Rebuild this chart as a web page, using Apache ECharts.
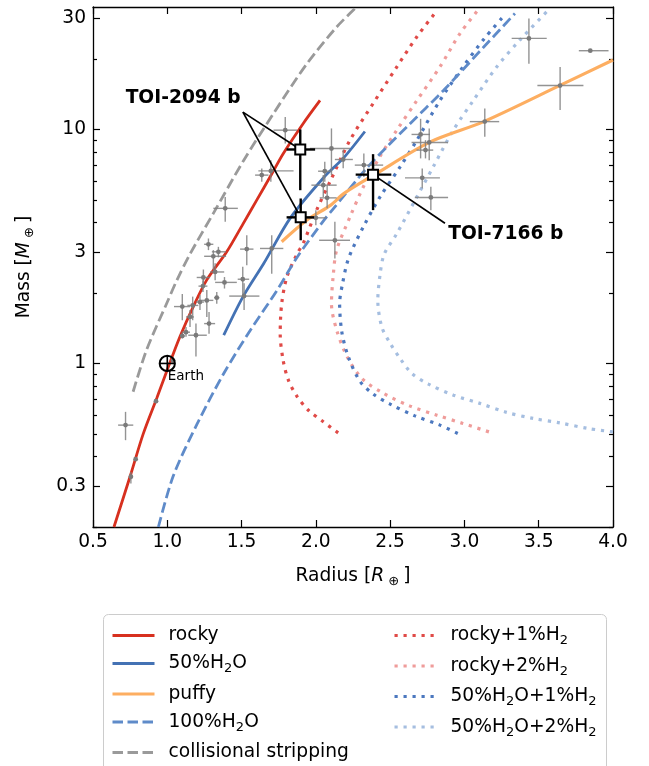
<!DOCTYPE html>
<html><head><meta charset="utf-8">
<script src="https://cdn.jsdelivr.net/npm/echarts@6/dist/echarts.min.js"></script>
<style>html,body{margin:0;padding:0;background:#fff}#c{width:649px;height:766px}</style>
</head><body><div id="c"></div>
<script>
// ---------- model curves (radius [R_earth], mass [M_earth]) ----------
const rockyR = [0.641,0.749,0.838,0.929,1.0,1.085,1.175,1.265,1.40,1.51,1.602,1.70,1.781,1.915,2.028];
const rockyM = [0.20,0.328,0.50,0.71,0.94,1.30,1.75,2.27,3.0,3.95,4.99,6.4,7.89,10.6,13.3];
const h2o50R = [1.38,1.51,1.65,1.83,2.06,2.19,2.33];
const h2o50M = [1.32,1.93,2.68,4.2,6.3,7.6,9.8];
const puffyR = [1.77,1.94,2.10,2.19,2.39,2.77,3.13,3.65,4.0];
const puffyM = [3.31,4.10,4.75,5.33,6.38,8.85,10.8,15.5,19.8];
const h2o100R = [0.94,1.04,1.20,1.38,1.56,1.74,1.875,2.055,2.10,2.35,2.615,2.86,3.13,3.34];
const h2o100M = [0.2,0.33,0.55,0.906,1.39,2.06,2.85,4.10,4.44,6.92,10.3,14.7,22.5,31.3];
const collR = [0.77,0.86,0.995,1.065,1.155,1.31,1.515,1.715,1.94,2.14,2.275];
const collM = [0.757,1.14,1.80,2.27,2.95,4.38,7.39,11.7,19.1,27.4,33.4];
const rocky1R = [2.15,2.05,1.95,1.875,1.815,1.78,1.76,1.77,1.805,1.875,1.915,2.005,2.10,2.23,2.385,2.545,2.68,2.80];
const rocky1M = [0.505,0.563,0.631,0.72,0.849,1.03,1.34,1.80,2.34,2.95,3.26,4.52,6.07,9.0,12.9,18.5,24.9,31.3];
const rocky2R = [3.165,2.99,2.815,2.635,2.455,2.31,2.21,2.14,2.105,2.117,2.14,2.23,2.32,2.43,2.545,2.68,2.835,2.97,3.09];
const rocky2M = [0.51,0.554,0.601,0.657,0.745,0.863,1.07,1.39,1.80,2.38,3.05,4.23,5.69,7.64,9.93,13.3,18.5,25.7,32.3];
const w1R = [2.955,2.835,2.667,2.50,2.387,2.30,2.22,2.175,2.16,2.18,2.22,2.32,2.432,2.567,2.68,2.835,2.99,3.135,3.27];
const w1M = [0.502,0.545,0.597,0.67,0.739,0.834,1.06,1.36,1.80,2.20,2.81,3.84,5.15,6.92,9.0,13.3,18.5,24.5,30.8];
const w2R = [4.0,3.835,3.643,3.463,3.284,3.104,2.926,2.758,2.646,2.567,2.50,2.444,2.417,2.433,2.46,2.545,2.68,2.79,2.925,3.06,3.217,3.373,3.563];
const w2M = [0.51,0.527,0.557,0.582,0.618,0.675,0.732,0.816,0.906,1.05,1.22,1.43,1.86,2.42,2.93,3.59,5.15,6.92,9.93,13.3,18.5,24.1,32.3];

// ---------- known planets ----------
const obsR   = [1.39,1.277,1.344,1.31,1.535,1.322,1.243,1.385,1.508,1.517,1.24,1.333,1.266,1.22,1.171,1.101,1.153,1.281,1.126,1.101,1.193,0.719,0.924,0.787,0.755,1.039,1.636,1.697,1.794,2.105,2.06,2.05,2.076,2.184,2.0,2.128,2.323,1.703,2.705,2.763,2.738,2.716,2.774,3.137,3.434,3.847,3.644];
const obsRLo = [1.31,1.248,1.30,1.248,1.49,1.288,1.198,1.322,1.474,1.417,1.21,1.315,1.22,1.193,1.135,1.045,1.126,1.248,1.097,1.085,1.141,0.669,0.918,0.782,0.75,1.03,1.591,1.613,1.715,1.96,2.015,1.97,2.026,2.128,1.936,2.022,2.262,1.624,2.644,2.644,2.678,2.6,2.666,3.036,3.318,3.77,3.491];
const obsRHi = [1.475,1.31,1.396,1.396,1.58,1.383,1.288,1.468,1.551,1.62,1.27,1.351,1.31,1.248,1.209,1.153,1.18,1.322,1.153,1.119,1.266,0.771,0.93,0.792,0.76,1.05,1.681,1.85,1.873,2.23,2.105,2.14,2.14,2.249,2.072,2.23,2.453,1.781,2.768,2.89,2.79,2.835,2.89,3.234,3.554,3.97,3.801];
const obsM   = [4.6,3.23,3.0,2.87,3.08,2.46,2.33,2.22,2.29,1.94,2.14,1.91,1.86,1.83,1.77,1.75,1.58,1.48,1.36,1.31,1.32,0.545,0.69,0.39,0.328,1.03,6.38,6.65,9.93,8.29,6.63,5.78,5.10,7.44,4.19,3.36,7.04,3.10,9.52,8.80,8.16,6.21,5.12,10.8,24.5,21.7,15.4];
const obsMLo = [4.03,3.05,2.84,2.51,2.63,2.27,2.12,2.09,1.96,1.69,2.02,1.80,1.58,1.69,1.53,1.53,1.43,1.34,1.30,1.28,1.07,0.47,0.68,0.385,0.307,1.0,5.97,5.97,8.71,6.38,5.97,5.15,4.60,6.83,3.90,2.81,6.27,2.42,7.52,7.39,7.52,5.60,4.52,9.30,19.1,21.4,12.1];
const obsMHi = [5.15,3.42,3.15,3.05,3.53,2.68,2.52,2.34,2.59,2.20,2.27,2.02,2.06,1.96,1.93,1.98,1.69,1.66,1.43,1.35,1.48,0.621,0.70,0.395,0.344,1.06,6.81,7.39,11.3,10.1,7.27,6.38,5.78,8.16,4.52,4.03,7.89,3.53,11.1,10.1,9.0,6.81,5.69,12.3,29.8,22.0,18.5];

// ---------- TOI planets ----------
const toiR   = [1.895,1.898,2.385];
const toiRLo = [1.803,1.803,2.268];
const toiRHi = [1.995,1.988,2.508];
const toiM   = [8.21,4.21,6.41];
const toiMLo = [5.50,3.36,4.52];
const toiMHi = [10.0,5.07,7.84];
const toiNames = ['TOI-2094 b','TOI-7166 b'];
const toiLabelR = [1.494,2.891];
const toiLabelM = [13.57,3.56];
const toi2094Anchor = [1.509,11.86];
const toi7166Anchor = [2.869,3.97];
const earthR = [1.0], earthM = [1.0];

// ---------- axis ticks ----------
const xTicks = [0.5,1.0,1.5,2.0,2.5,3.0,3.5,4.0];
const yMajor = [0.3,1,3,10,30];
const yMinor = [0.2,0.4,0.5,0.6,0.7,0.8,0.9,2,4,5,6,7,8,9,20];

const L = Math.log10;
const F = "'DejaVu Sans', sans-serif";
const FS = 18.67;
const yMin = L(0.2), yMax = L(0.2) + 520/234;

function pairs(R, M) { return R.map((r, i) => [r, L(M[i])]); }
function errData(R, RLo, RHi, M, MLo, MHi) {
  return R.map((r, i) => [r, L(M[i]), RLo[i], RHi[i], L(MLo[i]), L(MHi[i])]);
}
function errRender(color, lw, kind) {
  return function (params, api) {
    const r = api.value(0), m = api.value(1);
    const c = api.coord([r, m]);
    const a = api.coord([api.value(2), m]), b = api.coord([api.value(3), m]);
    const d = api.coord([r, api.value(4)]), e = api.coord([r, api.value(5)]);
    const ch = [
      {type:'line', shape:{x1:a[0],y1:a[1],x2:b[0],y2:b[1]}, style:{stroke:color,lineWidth:lw}},
      {type:'line', shape:{x1:d[0],y1:d[1],x2:e[0],y2:e[1]}, style:{stroke:color,lineWidth:lw}}
    ];
    if (kind === 'dot') ch.push({type:'circle', shape:{cx:c[0],cy:c[1],r:2.4}, style:{fill:'#7a7a7a'}});
    else ch.push({type:'rect', shape:{x:c[0]-5,y:c[1]-5,width:10,height:10}, style:{fill:'#fff',stroke:'#000',lineWidth:2}});
    return {type:'group', children: ch};
  };
}

function curve(name, R, M, color, width, type, z, smooth) {
  return {name, type:'line', data:pairs(R, M), xAxisIndex:0, yAxisIndex:0, symbol:'none', smooth: smooth || false,
    lineStyle:{color, width, type, cap:'butt'}, itemStyle:{color}, z: z || 2, silent:true, clip:true};
}
const dotted = [3.2, 5.8], dashed = [10.5, 4.5];

const subRich = {
  s:{fontSize:13, fontFamily:F, color:'#000', verticalAlign:'bottom', lineHeight:24},
  i:{fontSize:FS, fontFamily:F, fontStyle:'italic', color:'#000'}
};
function subFmt(name) { return name.replace(/H2/g, 'H{s|2}'); }

const axisLine = {show:true, onZero:false, lineStyle:{color:'#000', width:1.3}};
function yAx(pos, ticks, len, labels, withLine, extra) {
  return Object.assign({type:'value', position:pos, min:yMin, max:yMax,
    axisLine: withLine ? axisLine : {show:false, onZero:false},
    axisTick:{show:true, inside:true, length:len, customValues:ticks.map(L), lineStyle:{color:'#000', width:1.2}},
    axisLabel: labels ? {show:true, customValues:yMajor.map(L), margin:7, color:'#000', fontSize:FS, fontFamily:F,
      formatter: v => String(Math.round(Math.pow(10, v)*10)/10)} : {show:false},
    splitLine:{show:false}}, extra || {});
}

const legendCommon = {orient:'vertical', itemWidth:42, itemHeight:20, itemGap:9, selectedMode:false, height:170,
  itemStyle:{opacity:0}, lineStyle:{width:3},
  textStyle:{color:'#000', fontSize:FS, fontFamily:F, padding:[0,0,0,9], rich:subRich}, formatter:subFmt};

const chart = echarts.init(document.getElementById('c'), null, {renderer:'canvas'});
chart.setOption({
  animation:false,
  backgroundColor:'#fff',
  grid:{left:93, top:7, width:520, height:520, outerBoundsMode:'none', containLabel:false},
  graphic:[{type:'rect', left:103, top:614, shape:{width:503, height:170, r:5},
    style:{fill:'#fff', stroke:'#cccccc', lineWidth:1}, z:-1, silent:true}],
  legend:[
    Object.assign({}, legendCommon, {left:106, top:621,
      data:['rocky','50%H2O','puffy','100%H2O','collisional stripping']}),
    Object.assign({}, legendCommon, {left:388, top:621,
      data:['rocky+1%H2','rocky+2%H2','50%H2O+1%H2','50%H2O+2%H2']})
  ],
  xAxis:[
    {type:'value', position:'bottom', min:0.5, max:4, interval:0.5, axisLine,
      axisTick:{show:true, inside:true, length:7, lineStyle:{color:'#000', width:1.2}},
      axisLabel:{margin:6, color:'#000', fontSize:FS, fontFamily:F, formatter:v => v.toFixed(1)},
      splitLine:{show:false},
      name:'Radius [{i|R}{s| ⊕ }]', nameLocation:'middle', nameGap:37,
      nameTextStyle:{color:'#000', fontSize:FS, fontFamily:F, rich:subRich}},
    {type:'value', position:'top', min:0.5, max:4, interval:0.5, axisLine,
      axisTick:{show:true, inside:true, length:7, lineStyle:{color:'#000', width:1.2}},
      axisLabel:{show:false}, splitLine:{show:false}}
  ],
  yAxis:[
    yAx('left', yMajor, 7, true, true, {name:'Mass [{i|M}{s| ⊕ }]', nameLocation:'middle', nameGap:57,
      nameTextStyle:{color:'#000', fontSize:FS, fontFamily:F, rich:subRich}}),
    yAx('left', yMinor, 4, false, false),
    yAx('right', yMajor, 7, false, true),
    yAx('right', yMinor, 4, false, false)
  ],
  series:[
    curve('collisional stripping', collR, collM, '#9a9a9a', 2.8, dashed, 2, 0.3),
    curve('rocky+1%H2', rocky1R, rocky1M, '#e04a47', 3.2, dotted, 2, 0.3),
    curve('rocky+2%H2', rocky2R, rocky2M, '#ef9c9a', 3.2, dotted, 2, 0.3),
    curve('50%H2O+1%H2', w1R, w1M, '#4c78bf', 3.2, dotted, 2, 0.3),
    curve('50%H2O+2%H2', w2R, w2M, '#a5bee0', 3.2, dotted, 2, 0.3),
    curve('100%H2O', h2o100R, h2o100M, '#5f8bc9', 2.8, dashed, 3, 0.3),
    curve('puffy', puffyR, puffyM, '#fdae61', 3.2, 'solid', 3, 0.3),
    curve('50%H2O', h2o50R, h2o50M, '#4472b4', 2.8, 'solid', 3, 0.3),
    curve('rocky', rockyR, rockyM, '#d7301f', 2.8, 'solid', 3, 0.3),
    {type:'custom', xAxisIndex:0, yAxisIndex:0, z:4, silent:true,
      data: errData(obsR, obsRLo, obsRHi, obsM, obsMLo, obsMHi),
      encode:{x:[0,2,3], y:[1,4,5]}, renderItem: errRender('rgba(128,128,128,0.85)', 1.4, 'dot')},
    {type:'line', xAxisIndex:0, yAxisIndex:0, z:5, symbol:'none', silent:true,
      data:[[toi2094Anchor[0], L(toi2094Anchor[1])], [toiR[0], L(toiM[0])]], lineStyle:{color:'#000', width:1.7}},
    {type:'line', xAxisIndex:0, yAxisIndex:0, z:5, symbol:'none', silent:true,
      data:[[toi2094Anchor[0], L(toi2094Anchor[1])], [toiR[1], L(toiM[1])]], lineStyle:{color:'#000', width:1.7}},
    {type:'line', xAxisIndex:0, yAxisIndex:0, z:5, symbol:'none', silent:true,
      data:[[toiR[2], L(toiM[2])], [toi7166Anchor[0], L(toi7166Anchor[1])]], lineStyle:{color:'#000', width:1.7}},
    {type:'custom', xAxisIndex:0, yAxisIndex:0, z:6, silent:true,
      data: errData(toiR, toiRLo, toiRHi, toiM, toiMLo, toiMHi),
      encode:{x:[0,2,3], y:[1,4,5]}, renderItem: errRender('#000', 2.4, 'square')},
    {type:'custom', xAxisIndex:0, yAxisIndex:0, z:7, silent:true,
      data: toiNames.map((n, i) => [toiLabelR[i], L(toiLabelM[i])]),
      renderItem: (p, api) => {
        const c = api.coord([api.value(0), api.value(1)]);
        return {type:'text', x:c[0], y:c[1], style:{text:toiNames[p.dataIndex], fill:'#000',
          fontSize:FS, fontFamily:F, fontWeight:'bold',
          align: p.dataIndex === 0 ? 'right' : 'left', verticalAlign:'middle'}};
      }},
    {type:'custom', xAxisIndex:0, yAxisIndex:0, z:7, silent:true,
      data: earthR.map((r, i) => [r, L(earthM[i])]),
      renderItem: (p, api) => {
        const c = api.coord([api.value(0), api.value(1)]);
        const rr = 7.6;
        return {type:'group', children:[
          {type:'circle', shape:{cx:c[0], cy:c[1], r:rr}, style:{fill:'none', stroke:'#000', lineWidth:2}},
          {type:'line', shape:{x1:c[0]-rr, y1:c[1], x2:c[0]+rr, y2:c[1]}, style:{stroke:'#000', lineWidth:1.6}},
          {type:'line', shape:{x1:c[0], y1:c[1]-rr, x2:c[0], y2:c[1]+rr}, style:{stroke:'#000', lineWidth:1.6}},
          {type:'text', x:c[0]+0.5, y:c[1]+6, style:{text:'Earth', fill:'#000', fontSize:13.5, fontFamily:F,
            align:'left', verticalAlign:'top'}}
        ]};
      }}
  ]
});
</script></body></html>
